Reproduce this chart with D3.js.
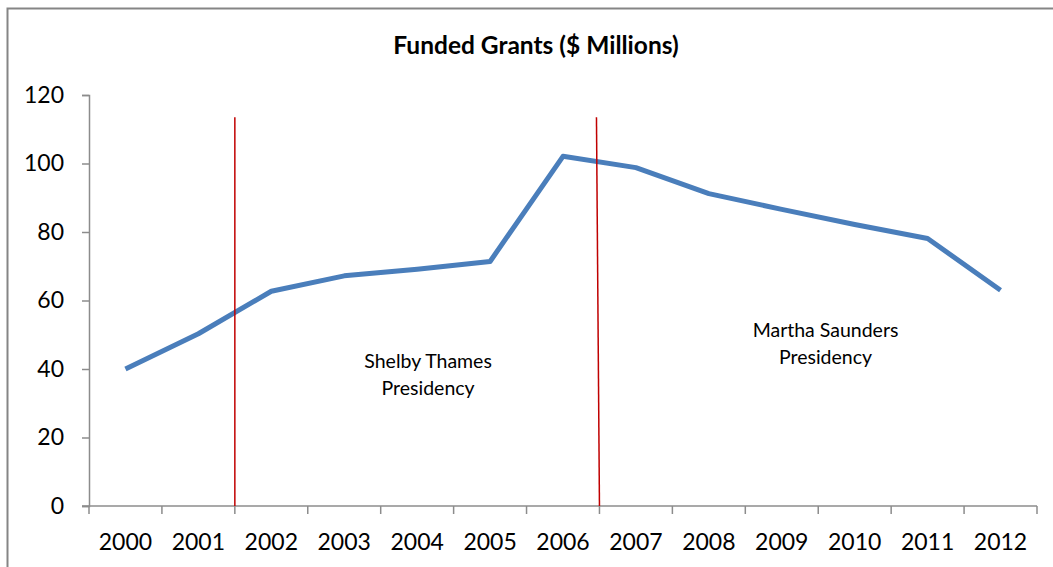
<!DOCTYPE html>
<html>
<head>
<meta charset="utf-8">
<script src="https://cdn.jsdelivr.net/npm/d3@7"></script>
<style>
  body { margin: 0; background: #fff; }
  svg { font-family: Lato, "Open Sans", sans-serif; }
</style>
</head>
<body>
<div id="chart"></div>
<script>
// data
var years = ["2000","2001","2002","2003","2004","2005","2006","2007","2008","2009","2010","2011","2012"];
var grants = [40, 50.3, 62.7, 67.2, 69.1, 71.4, 102.1, 98.8, 91.2, 86.6, 82.2, 78.1, 63];
var yTicks = [0, 20, 40, 60, 80, 100, 120];
// presidencies start between these categories; label pos in category units / y units
var presidents = [
	{after: "2001", names: ["Shelby Thames", "Presidency"], at: 4.65, value: 40.3},
	{after: "2006", names: ["Martha Saunders", "Presidency"], at: 10.1, value: 49.3}
];

var w = 1053;
var h = 567;

var svg = d3.select("#chart")
			.append("svg")
			.attr("width", w)
			.attr("height", h);

// outer frame
svg.append("rect")
   .attr("x", 7.5)
   .attr("y", 8.5)
   .attr("width", w)
   .attr("height", h)
   .attr("fill", "none")
   .attr("stroke", "#858585")
   .attr("stroke-width", 2);

var x = d3.scaleBand()
		  .domain(years)
		  .range([89, 1037]);

// same range in category units, for the labels
var xPos = d3.scaleLinear()
			 .domain([0, years.length])
			 .range(x.range());

var y = d3.scaleLinear()
		  .domain([0, 120])
		  .range([506, 95]);

// title
svg.append("text")
   .text("Funded Grants ($ Millions)")
   .attr("x", 536)
   .attr("y", 54)
   .attr("text-anchor", "middle")
   .attr("font-size", "24.5px")
   .attr("font-weight", "bold");

// y axis
var yAxis = svg.append("g")
			   .attr("transform", "translate(89,0)")
			   .call(d3.axisLeft(y).tickValues(yTicks).tickSize(7).tickPadding(18));
yAxis.selectAll("text").attr("font-size", "23px").attr("fill", "#000").attr("font-family", "Lato, sans-serif");

// x axis: ticks on band edges
var edges = years.map(function(d) { return x(d); }).concat([x.range()[1]]);
var xAxis = svg.append("g").attr("class", "xaxis");
xAxis.append("line")
	 .attr("x1", 82).attr("x2", 1037)
	 .attr("y1", 506).attr("y2", 506);
xAxis.selectAll("line.tick")
	 .data(edges)
	 .enter()
	 .append("line")
	 .attr("class", "tick")
	 .attr("x1", function(d) { return d; })
	 .attr("x2", function(d) { return d; })
	 .attr("y1", 506)
	 .attr("y2", 514);
xAxis.selectAll("text")
	 .data(years)
	 .enter()
	 .append("text")
	 .text(function(d) { return d; })
	 .attr("x", function(d) { return x(d) + x.bandwidth() / 2; })
	 .attr("y", 550)
	 .attr("text-anchor", "middle")
	 .attr("font-size", "23px");

svg.selectAll(".domain, .tick line, .xaxis line")
   .attr("stroke", "#8c8c8c")
   .attr("stroke-width", 1.5);

// line
var line = d3.line()
			 .x(function(d, i) { return x(years[i]) + x.bandwidth() / 2; })
			 .y(function(d) { return y(d); });

svg.append("path")
   .datum(grants)
   .attr("d", line)
   .attr("fill", "none")
   .attr("stroke", "#4a7ebb")
   .attr("stroke-width", 5)
   .attr("stroke-linejoin", "round");

// presidency markers
svg.selectAll("line.pres")
   .data(presidents)
   .enter()
   .append("line")
   .attr("class", "pres")
   .attr("x1", function(d, i) { return x(d.after) + x.bandwidth() - i * 3; })
   .attr("x2", function(d) { return x(d.after) + x.bandwidth(); })
   .attr("y1", y(113.5))
   .attr("y2", y(0))
   .attr("stroke", "#c00000")
   .attr("stroke-width", 1.5);

presidents.forEach(function(p) {
	var t = svg.append("text")
			   .attr("text-anchor", "middle")
			   .attr("font-size", "19.5px");
	p.names.forEach(function(n, i) {
		t.append("tspan")
		 .text(n)
		 .attr("x", xPos(p.at))
		 .attr("y", y(p.value) + i * 27);
	});
});
</script>
</body>
</html>
